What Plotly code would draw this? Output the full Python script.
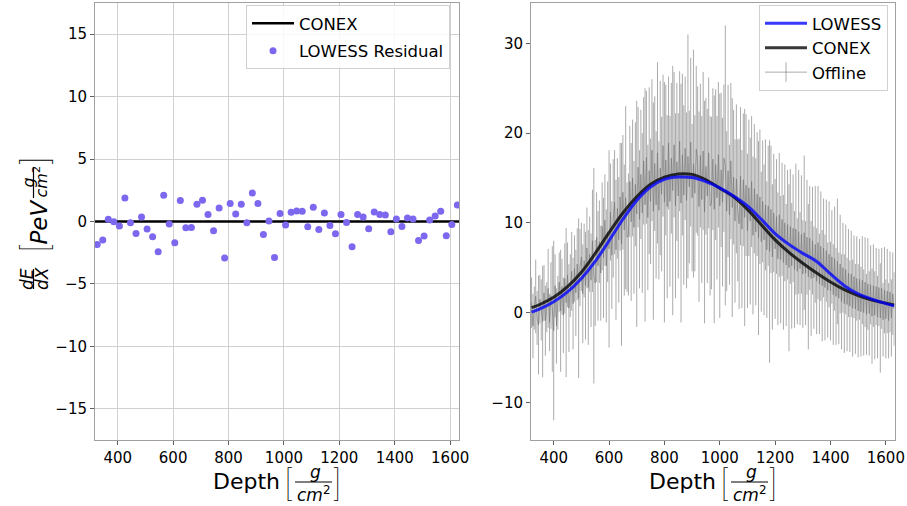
import plotly.graph_objects as go

W, H = 907, 506
FONT = "DejaVu Sans"
THIN = "Inter, Noto Sans, DejaVu Sans"

# ---- left panel: residuals of the LOWESS fit with respect to CONEX ----
res_depth = [326 + 20 * i for i in range(66)]
res_value = [
    -1.84, -1.49, 0.19, -0.03, -0.37, 1.89, -0.11, -0.96, 0.37, -0.61,
    -1.23, -2.43, 2.11, -0.21, -1.71, 1.68, -0.51, -0.48, 1.39, 1.71,
    0.56, -0.75, 1.09, -2.93, 1.44, 0.61, 1.39, -0.11, 2.29, 1.44,
    -1.04, 0.05, -2.88, 0.64, -0.29, 0.75, 0.85, 0.83, -0.43, 1.15,
    -0.64, 0.69, -0.32, -0.99, 0.56, -0.08, -2.03, 0.56, 0.37, -0.59,
    0.77, 0.56, 0.53, -0.83, 0.21, -0.40, 0.29, 0.21, -1.52, -1.17,
    0.13, 0.45, 0.83, -1.15, -0.24, 1.33,
]
depth_range = [318, 1632]
conex_ref_depth = [318, 1632]
conex_ref_value = [0.0, 0.0]

# ---- right panel: longitudinal profiles ----
curve_depth = [320, 350, 400, 450, 500, 550, 600, 650, 700, 750, 800, 850, 900,
               950, 1000, 1050, 1100, 1150, 1200, 1250, 1300, 1350, 1400, 1450,
               1500, 1550, 1600, 1630]
conex_dedx = [0.55, 0.9, 1.7, 2.9, 4.5, 6.6, 8.9, 11.1, 12.9, 14.3, 15.1, 15.45, 15.4,
              14.8, 13.85, 12.9, 11.5, 9.8, 8.1, 6.7, 5.5, 4.4, 3.4, 2.55,
              1.9, 1.4, 1.05, 0.85]
lowess_dedx = [0.05, 0.4, 1.2, 2.3, 3.8, 5.7, 8.0, 10.4, 12.5, 14.0, 14.85, 15.1, 15.05,
               14.6, 13.9, 13.0, 11.9, 10.4, 8.8, 7.6, 6.6, 5.7, 4.3, 3.0,
               2.1, 1.5, 1.0, 0.75]

# Offline reconstruction, one entry every 5 g/cm^2 from 320 to 1630
offline_depth = list(range(320, 1635, 5))
offline_dedx = [
    1.1, -1.5, 0.5, 1.8, -0.6, -1.4, 1.5, 0.3, -1.0, 2.2,
    -0.9, 0.6, 2.7, -1.1, 1.9, 0.4, -2.0, 3.0, -1.5, 1.1,
    3.4, 0.2, 2.9, -0.3, 3.8, 1.1, 4.2, 0.5, 3.0, 4.6,
    1.0, 4.9, 2.2, 5.4, 1.6, 5.0, 6.2, 2.1, 5.8, 3.0,
    7.2, 2.8, 6.5, 3.6, 8.0, 4.1, 3.3, 8.4, 5.2, 7.9,
    4.4, 9.6, 6.1, 10.3, 5.2, 9.0, 7.1, 11.2, 6.4, 10.5,
    12.3, 7.0, 11.6, 8.1, 12.9, 7.6, 13.4, 9.2, 12.8, 8.4,
    8.7, 14.6, 10.1, 15.0, 9.5, 14.3, 11.0, 16.2, 10.4, 15.4,
    11.1, 16.9, 12.0, 17.3, 10.6, 15.8, 12.4, 18.1, 11.3, 16.6,
    12.0, 17.8, 11.4, 16.1, 13.2, 18.6, 12.3, 17.0, 11.8, 18.9,
    12.4, 17.2, 13.6, 18.7, 11.9, 16.8, 13.0, 19.1, 12.2, 17.6,
    13.1, 18.3, 12.5, 17.4, 14.0, 19.0, 12.8, 16.6, 13.3, 18.2,
    16.9, 11.8, 17.5, 12.6, 18.0, 11.2, 16.3, 13.0, 17.8, 11.9,
    12.2, 17.1, 11.5, 16.5, 12.8, 17.6, 11.9, 15.9, 12.3, 17.2,
    16.4, 11.3, 15.8, 10.9, 16.9, 11.7, 15.1, 10.2, 14.9, 11.4,
    9.9, 15.2, 9.3, 14.8, 10.6, 14.2, 9.1, 13.9, 10.2, 14.6,
    8.6, 13.8, 9.0, 13.2, 8.3, 12.9, 7.9, 12.4, 8.1, 12.0,
    7.0, 11.9, 6.8, 11.5, 6.2, 11.1, 7.1, 10.7, 6.0, 10.9,
    5.9, 10.4, 5.6, 10.0, 5.3, 9.8, 5.0, 9.6, 5.2, 9.4,
    4.8, 9.3, 4.6, 9.0, 4.9, 8.7, 4.3, 8.9, 4.4, 8.4,
    4.0, 8.3, 3.8, 8.0, 3.9, 7.6, 3.5, 7.8, 3.2, 7.4,
    3.0, 7.2, 2.8, 6.9, 2.5, 6.5, 2.4, 6.2, 2.0, 6.0,
    1.8, 5.7, 1.6, 5.4, 1.2, 5.0, 1.0, 4.8, 0.9, 4.4,
    0.7, 4.3, 0.5, 4.0, 0.4, 3.8, 0.2, 3.7, 0.1, 3.6,
    0.0, 3.4, -0.2, 3.2, -0.1, 3.1, -0.4, 3.0, -0.3, 2.9,
    -0.5, 2.8, -0.6, 2.7, -0.8, 2.5, -0.7, 2.4, -0.9, 2.3,
    -0.6, 2.1, 0.4,
]
offline_err = [
    2.8, 3.6, 2.4, 4.1, 3.0, 5.5, 2.7, 3.4, 6.2, 3.1,
    3.9, 2.8, 4.4, 3.2, 3.7, 7.0, 10.0, 3.5, 4.2, 3.0,
    3.3, 6.8, 3.1, 4.2, 3.9, 8.3, 3.6, 4.9, 3.5, 4.4,
    5.1, 3.7, 4.8, 4.0, 8.9, 4.3, 3.8, 5.5, 4.1, 6.0,
    4.5, 6.4, 4.2, 5.2, 5.7, 12.0, 4.8, 5.0, 6.1, 4.6,
    5.3, 4.9, 6.7, 5.1, 6.3, 5.6, 11.0, 5.4, 6.0, 6.6,
    5.8, 7.8, 5.6, 7.0, 6.0, 11.3, 6.4, 7.3, 10.2, 6.1,
    6.8, 6.2, 8.8, 6.5, 7.4, 6.9, 12.6, 6.7, 7.7, 7.2,
    8.9, 7.1, 13.0, 7.4, 8.1, 9.3, 7.0, 7.9, 12.1, 7.5,
    8.2, 10.1, 7.7, 9.7, 8.6, 7.9, 13.4, 8.4, 10.2, 7.4,
    9.5, 8.4, 13.9, 8.1, 10.3, 8.8, 9.2, 7.8, 13.3, 9.0,
    10.0, 8.0, 9.8, 13.6, 8.5, 9.4, 8.2, 12.7, 8.7, 9.3,
    8.3, 10.6, 8.0, 9.3, 8.8, 12.4, 7.6, 9.7, 8.4, 10.0,
    9.6, 7.9, 12.7, 8.4, 9.1, 8.1, 12.5, 8.6, 9.4, 8.2,
    15.6, 8.9, 9.6, 7.8, 8.7, 12.2, 7.5, 9.1, 8.3, 7.9,
    9.5, 7.7, 8.8, 7.4, 12.1, 7.9, 8.6, 7.6, 9.3, 7.3,
    8.8, 7.2, 8.2, 6.9, 10.8, 7.5, 7.8, 6.8, 8.4, 7.3,
    7.6, 6.7, 12.4, 7.1, 8.1, 6.6, 7.8, 6.4, 7.4, 6.9,
    7.1, 6.3, 7.5, 6.5, 6.8, 6.1, 9.3, 6.4, 7.0, 6.0,
    6.5, 7.3, 5.9, 6.9, 6.3, 6.6, 6.0, 8.6, 5.8, 6.4,
    8.1, 5.8, 6.4, 6.0, 5.7, 6.5, 5.9, 6.3, 5.6, 6.1,
    6.2, 5.5, 5.9, 5.7, 5.3, 5.9, 5.5, 5.2, 5.6, 5.8,
    5.4, 7.0, 5.1, 5.5, 5.3, 5.0, 5.5, 5.0, 5.2, 4.9,
    5.1, 4.8, 5.4, 4.6, 5.0, 4.7, 5.2, 4.5, 5.0, 4.9,
    4.8, 5.0, 4.5, 5.1, 4.7, 4.4, 5.3, 4.6, 4.9, 4.3,
    4.6, 4.3, 6.1, 4.5, 4.1, 4.8, 4.4, 4.7, 4.2, 4.5,
    4.3, 4.6, 4.1,
]

GRAY = "rgba(115,115,115,0.6)"
BLUE = "rgba(0,0,255,0.78)"
DARK = "rgba(0,0,0,0.78)"

fig = go.Figure()

# left panel
fig.add_trace(go.Scatter(
    x=conex_ref_depth, y=conex_ref_value, mode="lines", name="CONEX",
    line=dict(color="black", width=2.5), xaxis="x", yaxis="y",
    legend="legend", legendgroup="a"))
fig.add_trace(go.Scatter(
    x=res_depth, y=res_value, mode="markers", name="LOWESS Residual",
    marker=dict(color="#7B68EE", size=7), xaxis="x", yaxis="y",
    legend="legend", legendgroup="b"))

# right panel
fig.add_trace(go.Scatter(
    x=offline_depth, y=offline_dedx, mode="lines", name="Offline", showlegend=False,
    line=dict(color=GRAY, width=1),
    error_y=dict(type="data", array=offline_err, visible=True, color=GRAY,
                 thickness=1, width=0),
    xaxis="x2", yaxis="y2"))
fig.add_trace(go.Scatter(
    x=curve_depth, y=conex_dedx, mode="lines", name="CONEX", line_shape="spline",
    line=dict(color=DARK, width=3), xaxis="x2", yaxis="y2",
    legend="legend2", legendrank=2, legendgroup="d"))
fig.add_trace(go.Scatter(
    x=curve_depth, y=lowess_dedx, mode="lines", name="LOWESS", line_shape="spline",
    line=dict(color=BLUE, width=3), xaxis="x2", yaxis="y2",
    legend="legend2", legendrank=1, legendgroup="c"))
fig.add_trace(go.Scatter(
    x=[None], y=[None], mode="lines+markers", name="Offline",
    line=dict(color=GRAY, width=1),
    marker=dict(symbol="line-ns-open", size=14, color=GRAY, line=dict(color=GRAY, width=1)),
    xaxis="x2", yaxis="y2", legend="legend2", legendrank=3, legendgroup="e"))


def px(x):
    return x / W


def py(y):
    return 1 - y / H


axis_common = dict(
    showline=True, mirror=True, linecolor="#a0a0a0", linewidth=1,
    ticks="outside", ticklen=4, tickcolor="#606060", tickwidth=1,
    tickfont=dict(family=FONT, size=15, color="black"), zeroline=False,
    automargin=False,
)

legend_common = dict(
    xanchor="right", yanchor="top", bgcolor="rgba(255,255,255,0.85)",
    bordercolor="#d0d0d0", borderwidth=1, itemwidth=42,
    traceorder="grouped",
    font=dict(family=FONT, size=16.5, color="black"),
)

fig.update_layout(
    width=W, height=H, autosize=False, margin=dict(l=0, r=0, t=0, b=0, autoexpand=False),
    paper_bgcolor="white", plot_bgcolor="white",
    font=dict(family=FONT, color="black"),
    xaxis=dict(domain=[px(95), px(459)], range=depth_range, tickmode="linear",
               tick0=0, dtick=200, showgrid=True, gridcolor="#d0d0d0",
               anchor="y", **axis_common),
    yaxis=dict(domain=[py(440), py(3)], range=[-17.5, 17.5], tickmode="linear",
               tick0=0, dtick=5, showgrid=True, gridcolor="#d0d0d0",
               anchor="x", **axis_common),
    xaxis2=dict(domain=[px(531), px(894.7)], range=depth_range, tickmode="linear",
                tick0=0, dtick=200, showgrid=False, anchor="y2", **axis_common),
    yaxis2=dict(domain=[py(440), py(3)], range=[-14.2, 34.5], tickmode="linear",
                tick0=0, dtick=10, showgrid=False, anchor="x2", **axis_common),
    legend=dict(x=px(450), y=py(5), tracegroupgap=3, **legend_common),
    legend2=dict(x=px(888), y=py(5), tracegroupgap=0, **legend_common),
    showlegend=True,
)

annotations = []
shapes = []


def label(text, x, y, size, angle=0, family=FONT, weight="normal"):
    annotations.append(dict(
        text=text, x=px(x), y=py(y), xref="paper", yref="paper", showarrow=False,
        xanchor="center", yanchor="middle", textangle=angle,
        font=dict(family=family, size=size, color="black", weight=weight)))


def bar(x0, y0, x1, y1):
    shapes.append(dict(type="line", xref="paper", yref="paper",
                       x0=px(x0), y0=py(y0), x1=px(x1), y1=py(y1),
                       line=dict(color="black", width=1.2)))


# x-axis titles: Depth [g / cm^2]
for cx in (277, 713):
    label("Depth", cx - 30.5, 481, 22)
    label("[", cx + 11.5, 482, 37, family=THIN, weight=100)
    label("<i>g</i>", cx + 38, 472, 17)
    bar(cx + 18, 482, cx + 55, 482)
    label("<i>cm</i><sup>2</sup>", cx + 36.5, 494, 17)
    label("]", cx + 60, 482, 37, family=THIN, weight=100)

# y-axis title of the residual panel: dE/dX [PeV g / cm^2]
label("<i>dE</i>", 27, 279, 17, -90)
bar(33.5, 269, 33.5, 289)
label("<i>dX</i>", 42, 279, 17, -90)
label("[", 34, 248, 38, -90, family=THIN, weight=100)
label("<i>PeV</i>", 38.5, 222, 23, -90)
label("<i>g</i>", 27.5, 183, 16, -90)
bar(33.5, 167, 33.5, 198)
label("<i>cm</i><sup>2</sup>", 41.5, 182, 16, -90)
label("]", 34, 161, 38, -90, family=THIN, weight=100)

fig.update_layout(annotations=annotations, shapes=shapes)

fig.write_html("out.html", config={"responsive": False})
